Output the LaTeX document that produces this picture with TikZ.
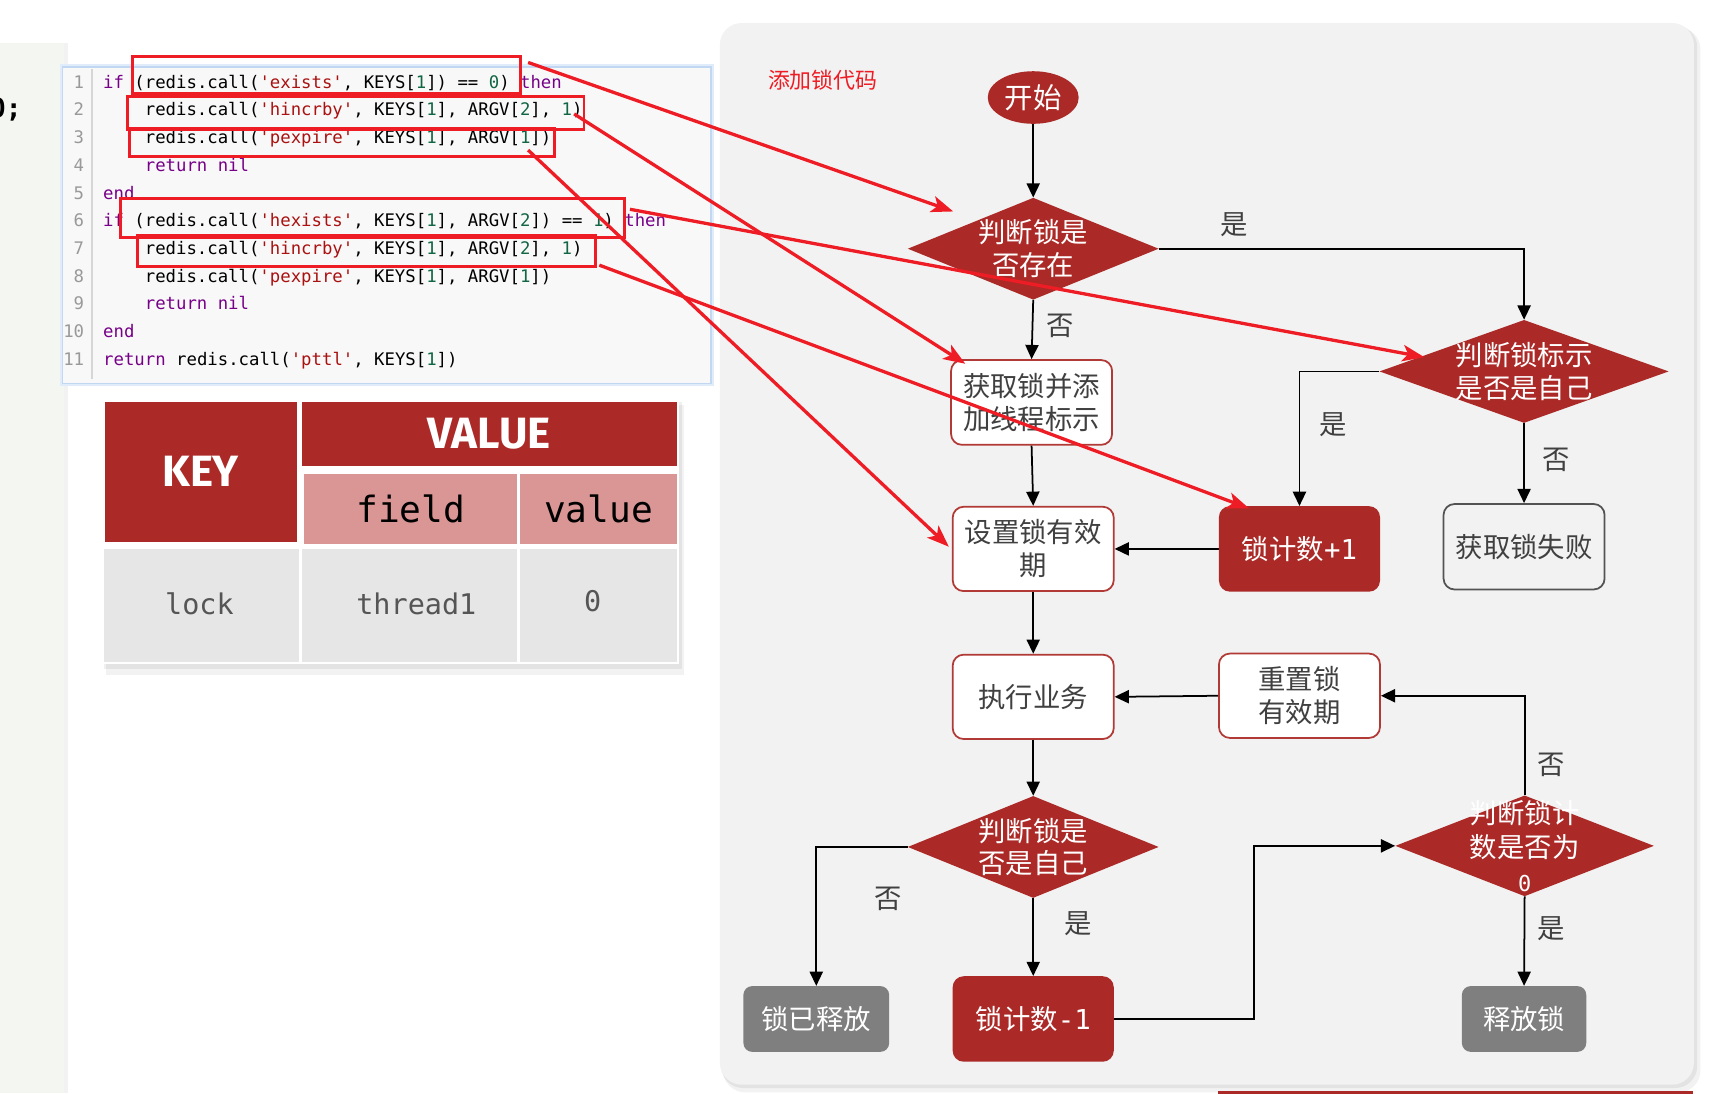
\documentclass[tikz,border=0pt]{standalone}
\usepackage{fontspec}
\setmainfont{Noto Sans CJK SC}
\setmonofont{DejaVu Sans Mono}
\newfontfamily\hfont{Fira Sans}
\usetikzlibrary{shapes.geometric,arrows.meta,calc}
\definecolor{dred}{HTML}{AB2A27}
\definecolor{bred}{HTML}{EE1C24}
\definecolor{pinkc}{HTML}{D99694}
\definecolor{cellg}{HTML}{E6E6E6}
\definecolor{panelg}{HTML}{F2F2F2}
\definecolor{txtg}{HTML}{404040}
\definecolor{kwc}{HTML}{770088}
\definecolor{stc}{HTML}{AA1111}
\definecolor{numc}{HTML}{116644}
\definecolor{lnc}{HTML}{999999}
\definecolor{leftp}{HTML}{F4F6F1}
\definecolor{codebg}{HTML}{F8F8F8}
\definecolor{codebd}{HTML}{C2D8F2}
\definecolor{boxbd}{HTML}{B23A36}
\definecolor{grayfill}{HTML}{7F7F7F}
\definecolor{datg}{HTML}{555555}
\newcommand\cKw[1]{\textcolor{kwc}{#1}}
\newcommand\cSt[1]{\textcolor{stc}{#1}}
\newcommand\cNum[1]{\textcolor{numc}{#1}}
\tikzset{
 base/.style={font=\fontsize{25}{30}\selectfont, align=center, inner sep=0pt},
 wbox/.style={base, rectangle, rounded corners=10pt, draw=boxbd, line width=1.6pt, fill=white, text=txtg, minimum width=147pt, minimum height=77pt},
 rbox/.style={base, rectangle, rounded corners=10pt, fill=dred, text=white, minimum width=147pt, minimum height=78pt},
 gbox/.style={base, rectangle, rounded corners=8pt, fill=grayfill, text=white, minimum height=60pt},
 fbox/.style={base, rectangle, rounded corners=10pt, draw=txtg!90, line width=1.6pt, fill=panelg, text=txtg, minimum width=147pt, minimum height=78pt},
 dia/.style={diamond, fill=dred, inner sep=0pt, minimum width=229pt, minimum height=93pt},
 dtext/.style={base, text=white},
 conn/.style={line width=1.6pt, -{Triangle[length=13pt,width=12pt]}},
 lab/.style={base, text=txtg},
 redbox/.style={draw=bred, line width=2.6pt, inner sep=0pt},
 redarr/.style={draw=bred, line width=3pt, -{Stealth[length=20pt,width=15pt,inset=5pt]}},
 code/.style={font=\ttfamily\fontsize{15.8}{18}\selectfont, anchor=base west, inner sep=0pt},
 cell/.style={rectangle, inner sep=0pt},
 hdr/.style={cell, fill=dred, text=white, font=\hfont\bfseries\fontsize{40}{44}\selectfont},
 fld/.style={cell, fill=pinkc, text=black, font=\ttfamily\fontsize{33}{36}\selectfont},
 dat/.style={cell, fill=cellg},
 dattxt/.style={inner sep=0pt, text=datg, font=\ttfamily\fontsize{26}{30}\selectfont},
}
\begin{document}
\begin{tikzpicture}[x=1pt,y=-1pt]
\useasboundingbox (0,0) rectangle (1568,998);
\fill[white] (0,0) rectangle (1568,998);
% left panel
\fill[black,opacity=0.05] (57,39) rectangle (62,998);
\fill[leftp] (0,39) rectangle (58,998);
\node[anchor=base east, inner sep=0pt, font=\ttfamily\bfseries\fontsize{24}{28}\selectfont] (semi) at (20,107) {0;};
% code panel
\draw[codebd!50, line width=5pt] (57,61) rectangle (649,350);
\filldraw[fill=codebg, draw=codebd, line width=1.5pt] (57,61) rectangle (649,350);
\draw[lnc!40, line width=1pt] (84,63) -- (84,346);
\foreach \i in {1,...,11}
  \node[code, anchor=base east, text=lnc] (ln\i) at (77,{80.5+25.3*(\i-1)}) {\i};
\node[code] (c1) at (94,80.5) {\cKw{if} (redis.call(\cSt{'exists'}, KEYS[\cNum{1}]) == \cNum{0}) \cKw{then}};
\node[code] (c2) at (132,105.8) {redis.call(\cSt{'hincrby'}, KEYS[\cNum{1}], ARGV[\cNum{2}], \cNum{1})};
\node[code] (c3) at (132,131.1) {redis.call(\cSt{'pexpire'}, KEYS[\cNum{1}], ARGV[\cNum{1}])};
\node[code] (c4) at (132,156.4) {\cKw{return nil}};
\node[code] (c5) at (94,181.7) {\cKw{end}};
\node[code] (c6) at (94,207.0) {\cKw{if} (redis.call(\cSt{'hexists'}, KEYS[\cNum{1}], ARGV[\cNum{2}]) == \cNum{1}) \cKw{then}};
\node[code] (c7) at (132,232.3) {redis.call(\cSt{'hincrby'}, KEYS[\cNum{1}], ARGV[\cNum{2}], \cNum{1})};
\node[code] (c8) at (132,257.6) {redis.call(\cSt{'pexpire'}, KEYS[\cNum{1}], ARGV[\cNum{1}])};
\node[code] (c9) at (132,282.9) {\cKw{return nil}};
\node[code] (c10) at (94,308.2) {\cKw{end}};
\node[code] (c11) at (94,333.5) {\cKw{return} redis.call(\cSt{'pttl'}, KEYS[\cNum{1}])};
% red boxes
\node[redbox, minimum width=354pt, minimum height=34pt] (rb1) at (298,68.5) {};
\node[redbox, minimum width=417pt, minimum height=30pt] (rb2) at (324.5,103) {};
\node[redbox, minimum width=388pt, minimum height=25pt] (rb3) at (312,130) {};
\node[redbox, minimum width=460pt, minimum height=36pt] (rb4) at (339.8,198.8) {};
\node[redbox, minimum width=418pt, minimum height=28pt] (rb5) at (334.3,229) {};
% table
\fill[black,opacity=0.05] (97,370) rectangle (624,616);
\fill[black,opacity=0.06] (95,367) rectangle (622,611);
\fill[white] (93,364) rectangle (620,606);
\node[hdr, minimum width=175.4pt, minimum height=127.8pt] (tkey) at (183.1,430.5) {KEY};
\node[hdr, minimum width=342.3pt, minimum height=58.7pt] (tval) at (446.4,396) {VALUE};
\node[fld, minimum width=194.6pt, minimum height=64.2pt] (tfield) at (375,464.7) {field};
\node[fld, minimum width=142.6pt, minimum height=64.2pt] (tvalue) at (546.3,464.7) {value};
\node[dat, minimum width=177.1pt, minimum height=102.6pt] (tlock) at (183.9,552.7) {};
\node[dat, minimum width=197pt, minimum height=102.6pt] (tthr) at (373.8,552.7) {};
\node[dat, minimum width=143pt, minimum height=102.6pt] (tzero) at (546.5,552.7) {};
\node[dattxt] (tlockt) at (182,551) {lock};
\node[dattxt] (tthrt) at (380,551) {thread1};
\node[dattxt] (tzt) at (541,549) {0};
% flow panel
\fill[black,opacity=0.05,rounded corners=20pt] (660,25) rectangle (1552,997);
\fill[black,opacity=0.06,rounded corners=20pt] (658,23) rectangle (1549,993);
\fill[panelg,rounded corners=20pt] (657,21) rectangle (1546,990);
\fill[dred] (1112,995.5) rectangle (1545,1000);
\node[base, text=bred, font=\fontsize{20}{24}\selectfont] (title) at (751,73) {添加锁代码};
% nodes
\node[ellipse, fill=dred, minimum width=83pt, minimum height=48pt, inner sep=0pt, text=white, font=\fontsize{26}{30}\selectfont] (start) at (943,89) {开始};
\node[dia] (d1) at (943,227) {};
\node[dtext] at (d1) {判断锁是\\否存在};
\node[wbox, minimum height=77.4pt] (get) at (941.5,367.3) {获取锁并添\\加线程标示};
\node[dia, minimum width=264pt, minimum height=94pt] (d2) at (1391,339) {};
\node[dtext] at (d2) {判断锁标示\\是否是自己};
\node[wbox] (setexp) at (943,501) {设置锁有效\\期};
\node[rbox] (inc) at (1186,501) {锁计数{\ttfamily +1}};
\node[fbox] (fail) at (1391,499) {获取锁失败};
\node[wbox] (exec) at (943,636) {执行业务};
\node[wbox] (reset) at (1186,635) {重置锁\\有效期};
\node[dia] (d3) at (943,773) {};
\node[dtext] at (d3) {判断锁是\\否是自己};
\node[dia, minimum width=236pt, minimum height=92pt] (d4) at (1391.5,772) {};
\node[dtext, font=\fontsize{25}{31}\selectfont] at (d4) {判断锁计\\数是否为\\{\ttfamily\fontsize{20}{31}\selectfont 0}};
\node[gbox, minimum width=133pt] (released) at (745,930) {锁已释放};
\node[rbox] (dec) at (943,930) {锁计数{\ttfamily -1}};
\node[gbox, minimum width=113.5pt] (release) at (1391,930) {释放锁};
% connectors
\draw[conn] (start) -- (d1);
\draw[conn] (d1.east) -| (d2.north);
\draw[conn] (d1.south) -- (get.north);
\draw[conn] (d2.west) -| (inc.north);
\draw[conn] (d2.south) -- (fail.north);
\draw[conn] (get.south) -- (setexp.north);
\draw[conn] (inc.west) -- (setexp.east);
\draw[conn] (setexp.south) -- (exec.north);
\draw[conn] (reset.west) -- (exec.east);
\draw[conn] (exec.south) -- (d3.north);
\draw[conn] (d3.west) -| (released.north);
\draw[conn] (d3.south) -- (dec.north);
\draw[conn] (dec.east) -- ++(128,0) |- (d4.west);
\draw[conn] (d4.north) |- (reset.east);
\draw[conn] (d4.south) -- (release.north);
% labels
\node[lab] (l1) at (1126,205) {是};
\node[lab] (l2) at (968,297) {否};
\node[lab] (l3) at (1217,388) {是};
\node[lab] (l4) at (1420,420) {否};
\node[lab] (l5) at (811,820) {否};
\node[lab] (l6) at (984,843) {是};
\node[lab] (l7) at (1416,698) {否};
\node[lab] (l8) at (1416,848) {是};
% red arrows
\coordinate (a1s) at (482,57);  \coordinate (a1e) at (870,193);
\coordinate (a2s) at (524,104); \coordinate (a2e) at (881,332);
\coordinate (a3s) at (482,137); \coordinate (a3e) at (866,499);
\coordinate (a4s) at (575,191); \coordinate (a4e) at (1300,326);
\coordinate (a5s) at (547,242); \coordinate (a5e) at (1140,464);
\draw[redarr] (a1s) -- (a1e);
\draw[redarr] (a2s) -- (a2e);
\draw[redarr] (a3s) -- (a3e);
\draw[redarr] (a4s) -- (a4e);
\draw[redarr] (a5s) -- (a5e);
\end{tikzpicture}
\end{document}
